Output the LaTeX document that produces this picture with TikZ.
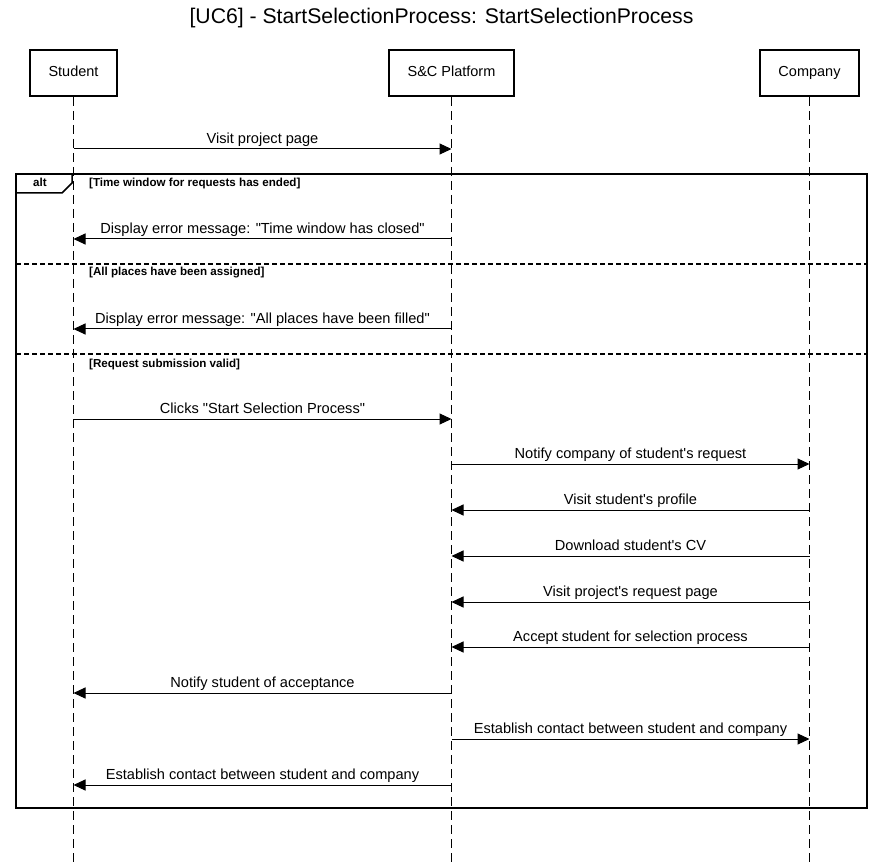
\documentclass[tikz,border=0pt]{standalone}
\usepackage{fontspec}
\setmainfont{Liberation Sans}
\usetikzlibrary{positioning}
\usetikzlibrary{arrows.meta}

\newcommand{\q}{\textquotedbl}
\newcommand{\ap}{\textquotesingle}

\tikzset{
  actor/.style={draw, line width=2pt, minimum height=46pt, text height=11pt, text depth=3pt,
    font=\fontsize{14.5}{16}\selectfont},
  lifeline/.style={dash pattern=on 9pt off 5pt, line width=1pt},
  msg/.style={line width=1pt, -{Triangle[length=12pt,width=11pt]}},
  msglabel/.style={above, inner sep=2pt, text height=11pt, text depth=3pt,
    font=\fontsize{14.6}{16}\selectfont},
  guard/.style={anchor=base west, inner sep=0pt, font=\bfseries\fontsize{11.6}{13}\selectfont},
  divider/.style={line width=2pt, dash pattern=on 5pt off 3pt},
}

\begin{document}
\begin{tikzpicture}[x=1pt, y=-1pt]
\useasboundingbox (0,0) rectangle (883,866);

% Title
\node[font=\fontsize{21.2}{24}\selectfont] (title) at (441.5,18) {[UC6] - StartSelectionProcess: StartSelectionProcess};

% Participants
\node[actor, minimum width=87pt] (student) at (73.5,73) {Student};
\node[actor, minimum width=125pt] (platform) at (451.5,73) {S\&C Platform};
\node[actor, minimum width=99pt] (company) at (809.5,73) {Company};

% Lifelines
\coordinate (bottom) at (0,866);
\foreach \p in {student, platform, company} {
    \coordinate (\p-end) at (\p |- bottom);
    \draw[lifeline] (\p) -- (\p-end);
}

% Alt frame
\draw[line width=2pt] (16,174) rectangle (867,808);
\draw[line width=1.5pt] (16,193) -- (62,193) -- (72,183) -- (72,174);
\node[font=\bfseries\fontsize{11.6}{13}\selectfont, inner sep=0pt, anchor=base] (alt) at (40,187) {alt};
\draw[divider] (16,264) -- (867,264);
\draw[divider] (16,354) -- (867,354);

% Guards
\node[guard] (guard1) at (89,187) {[Time window for requests has ended]};
\node[guard] (guard2) at (89,276) {[All places have been assigned]};
\node[guard] (guard3) at (89,367) {[Request submission valid]};

% Messages
\foreach \y/\a/\b/\t [count=\i] in {
    149/student/platform/Visit project page,
    239/platform/student/Display error message: \q Time window has closed\q,
    329/platform/student/Display error message: \q All places have been filled\q,
    419/student/platform/Clicks \q Start Selection Process\q,
    464/platform/company/Notify company of student\ap s request,
    510/company/platform/Visit student\ap s profile,
    556/company/platform/Download student\ap s CV,
    602/company/platform/Visit project\ap s request page,
    647/company/platform/Accept student for selection process,
    693/platform/student/Notify student of acceptance,
    739/platform/company/Establish contact between student and company,
    785/platform/student/Establish contact between student and company} {
    \coordinate (row\i) at (0,\y);
    \coordinate (src\i) at (\a |- row\i);
    \coordinate (dst\i) at (\b |- row\i);
    \draw[msg] (src\i) -- node[msglabel] (label\i) {\t} (dst\i);
}

\end{tikzpicture}
\end{document}
